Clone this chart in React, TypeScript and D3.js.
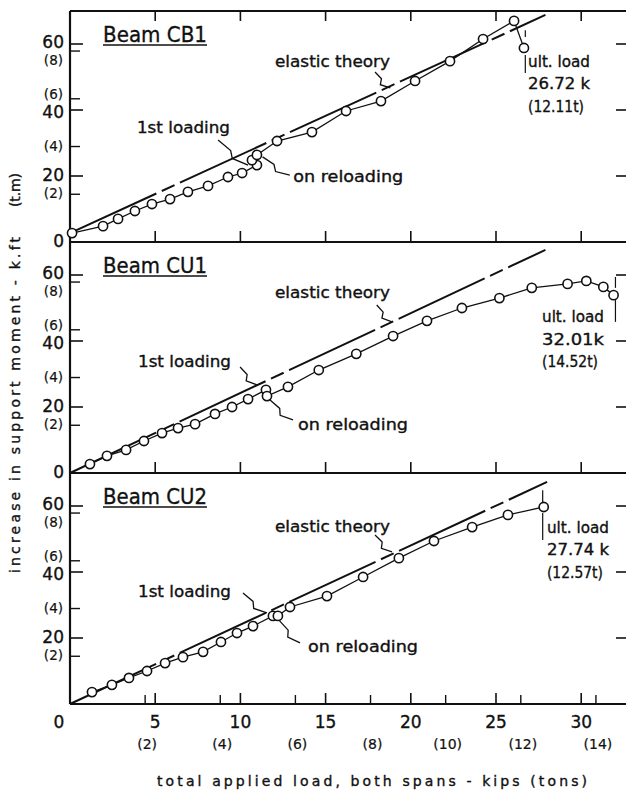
import React from 'react';
import { scaleLinear, line } from 'd3';

// axis ticks
const kipsTicks = [0, 5, 10, 15, 20, 25, 30];
const tonsTicks = [2, 4, 6, 8, 10, 12, 14];
const momentTicks = [20, 40, 60];
const tmTicks = [2, 4, 6, 8];
const KIPS_PER_TON = 2.2046;
const KFT_PER_TM = 7.233;

const beamNames = ['Beam CB1', 'Beam CU1', 'Beam CU2'];
const ultLoads = [26.72, 32.01, 27.74];
const ultKips = ['26.72 k', '32.01k', '27.74 k'];
const ultTons = ['(12.11t)', '(14.52t)', '(12.57t)'];

// measured points: load (kips) vs increase in support moment (k.ft)
const cb1Load = [0.12, 1.94, 2.82, 3.81, 4.81, 5.87, 6.92, 8.1, 9.27, 10.1, 10.97, 10.68, 10.97, 12.15, 14.2, 16.2, 18.25, 20.25, 22.3, 24.24, 26.06, 26.64];
const cb1Moment = [2.7, 4.8, 7.0, 9.4, 11.5, 13.0, 15.2, 17.0, 19.7, 20.9, 23.3, 24.8, 26.4, 30.6, 33.3, 39.7, 42.7, 48.8, 54.8, 61.5, 67.0, 58.8];

const cu1Load = [1.17, 2.17, 3.29, 4.34, 5.4, 6.34, 7.34, 8.51, 9.51, 10.45, 11.5, 11.56, 12.79, 14.6, 16.8, 18.96, 20.95, 23.0, 25.2, 27.1, 29.2, 30.3, 31.3, 31.9];
const cu1Moment = [2.7, 5.2, 7.0, 9.7, 12.1, 13.6, 14.8, 17.9, 20.0, 22.4, 25.2, 23.3, 26.1, 31.2, 36.1, 41.5, 46.1, 50.0, 53.0, 56.1, 57.3, 58.2, 56.4, 53.9];

const cu2Load = [1.29, 2.46, 3.46, 4.52, 5.58, 6.63, 7.81, 8.86, 9.8, 10.74, 11.91, 12.2, 12.91, 15.08, 17.2, 19.3, 21.36, 23.6, 25.7, 27.8];
const cu2Moment = [3.6, 5.8, 7.9, 10.0, 12.4, 14.2, 15.8, 18.8, 21.5, 23.6, 26.7, 26.7, 29.4, 32.7, 38.5, 44.2, 49.4, 53.6, 57.3, 59.7];

const loads = [cb1Load, cu1Load, cu2Load];
const moments = [cb1Moment, cu1Moment, cu2Moment];

// elastic theory lines (start, end) in kips / k.ft
const elasticLoad = [[0, 27.9], [0, 27.9], [0, 28.0]];
const elasticMoment = [[2.7, 68.8], [0, 67.6], [0, 67.3]];

// annotation layout, in chart units
const notes = [
  {
    elastic: [12.03, 54.5], elasticPtr: [17.9, 51.5, 18.8, 46.7],
    first: [3.93, 34.5], firstPtr: [8.69, 30.9, 10.45, 23.3],
    reload: [13.1, 19.4], reloadPtr: [11.3, 25.8, 12.9, 20.3],
    ult: [26.88, 54.5], ultSeg: [[64.2, 62.1], [56.7, 51.2]],
  },
  {
    elastic: [12.03, 54.5], elasticPtr: [18.0, 50.9, 18.9, 45.8],
    first: [3.99, 33.6], firstPtr: [9.98, 32.1, 10.97, 26.7],
    reload: [13.38, 14.5], reloadPtr: [11.74, 22.1, 13.09, 16.1],
    ult: [27.7, 47.0], ultSeg: [[59.4, 56.1], [52.4, 45.8]],
  },
  {
    elastic: [12.03, 53.6], elasticPtr: [17.9, 51.2, 18.9, 46.1],
    first: [3.99, 33.9], firstPtr: [10.15, 33.6, 11.56, 27.6],
    reload: [13.97, 17.0], reloadPtr: [12.3, 25.2, 13.5, 18.5],
    ult: [27.99, 53.3], ultSeg: [[64.8, 60.9], [57.9, 49.7]],
  },
];

const W = 626;
const H = 794;
const panelTops = [11, 242, 473];
const PH = 231;
const FONT = 'DejaVu Sans, sans-serif';

const x = scaleLinear().domain([0, 33.5]).range([70, 70 + 33.5 * 17.04]);
const X0 = x(0);
const XR = x(33.5);
const txt = { fontFamily: FONT, fill: '#111', stroke: '#111', strokeWidth: 0.35 } as const;

function zig(x1: number, y1: number, x2: number, y2: number) {
  const dx = x2 - x1, dy = y2 - y1;
  const len = Math.hypot(dx, dy);
  const nx = -dy / len, ny = dx / len;
  const a = [x1 + dx * 0.42, y1 + dy * 0.42];
  const b = [x1 + dx * 0.58 + nx * 5, y1 + dy * 0.58 + ny * 5];
  return `M${x1},${y1}L${a[0]},${a[1]}L${b[0]},${b[1]}L${x2},${y2}`;
}

function Panel({ i }: { i: number }) {
  const top = panelTops[i];
  const bottom = top + PH;
  const y = scaleLinear().domain([0, 70]).range([bottom, top]);
  const n = notes[i];
  const pts = loads[i].map((k, j) => [k, moments[i][j]] as [number, number]);
  const path = line<[number, number]>().x(d => x(d[0])).y(d => y(d[1]))(pts) || '';
  const tmNudge: Record<number, number> = { 8: 10, 6: -4 };
  const kNudge: Record<number, number> = { 60: -1, 40: 3 };

  return (
    <g>
      {/* frame */}
      <line x1={X0} x2={X0} y1={top} y2={bottom} stroke="#111" strokeWidth={2.2} />
      <line x1={X0} x2={XR} y1={bottom} y2={bottom} stroke="#111" strokeWidth={2} />
      {i === 0 && <line x1={X0} x2={XR} y1={top} y2={top} stroke="#111" strokeWidth={2} />}

      {/* x ticks */}
      {kipsTicks.filter(t => t > 0).map(t => (
        <line key={'b' + t} x1={x(t)} x2={x(t)} y1={bottom} y2={bottom - 11} stroke="#111" strokeWidth={1.6} />
      ))}
      {i === 0 && kipsTicks.filter(t => t > 0).map(t => (
        <line key={'t' + t} x1={x(t)} x2={x(t)} y1={top} y2={top + 10} stroke="#111" strokeWidth={1.6} />
      ))}
      {i === 2 && tonsTicks.map(t => (
        <line key={'tn' + t} x1={x(t * KIPS_PER_TON)} x2={x(t * KIPS_PER_TON)} y1={bottom} y2={bottom - 9} stroke="#111" strokeWidth={1.4} />
      ))}

      {/* y ticks */}
      {momentTicks.map(t => (
        <g key={'m' + t}>
          <line x1={X0} x2={X0 + 13} y1={y(t)} y2={y(t)} stroke="#111" strokeWidth={1.6} />
          <line x1={W + 2} x2={W - 10} y1={y(t)} y2={y(t)} stroke="#111" strokeWidth={1.6} />
          <text x={64} y={y(t) + (kNudge[t] || 0)} textAnchor="end" dominantBaseline="middle" fontSize={17} {...txt}>{t}</text>
        </g>
      ))}
      {tmTicks.map(t => (
        <g key={'tm' + t}>
          <line x1={X0} x2={X0 + 10} y1={y(t * KFT_PER_TM)} y2={y(t * KFT_PER_TM)} stroke="#111" strokeWidth={1.4} />
          <text x={63} y={y(t * KFT_PER_TM) + (tmNudge[t] || 0)} textAnchor="end" dominantBaseline="middle" fontSize={13.5} {...txt} strokeWidth={0.2}>({t})</text>
        </g>
      ))}
      {i < 2 && <text x={64} y={bottom} textAnchor="end" dominantBaseline="middle" fontSize={17} {...txt}>0</text>}

      {/* title */}
      <text x={103} y={top + 31} fontSize={22} textLength={104} lengthAdjust="spacingAndGlyphs" {...txt}>{beamNames[i]}</text>
      <line x1={103} x2={207} y1={top + 34} y2={top + 34} stroke="#111" strokeWidth={1.6} />

      {/* elastic theory */}
      <line
        x1={x(elasticLoad[i][0])} y1={y(elasticMoment[i][0])}
        x2={x(elasticLoad[i][1])} y2={y(elasticMoment[i][1])}
        stroke="#111" strokeWidth={2} strokeDasharray="95 6 14 6"
      />

      {/* test data */}
      <path d={path} fill="none" stroke="#111" strokeWidth={1.3} />
      {pts.map((d, j) => (
        <circle key={j} cx={x(d[0])} cy={y(d[1])} r={4.6} fill="#fff" stroke="#111" strokeWidth={1.6} />
      ))}

      {/* ultimate load */}
      {n.ultSeg.map((s, j) => (
        <line key={'u' + j} x1={x(ultLoads[i])} x2={x(ultLoads[i])} y1={y(s[0])} y2={y(s[1])} stroke="#111" strokeWidth={1.2} />
      ))}
      {['ult. load', ultKips[i], ultTons[i]].map((s, j) => (
        <text key={'ut' + j} x={x(n.ult[0])} y={y(n.ult[1]) + j * 22.5} dominantBaseline="middle" fontSize={15}
          textLength={j === 2 ? 56 : 62} lengthAdjust="spacingAndGlyphs" {...txt}>{s}</text>
      ))}

      {/* labels */}
      <text x={x(n.elastic[0])} y={y(n.elastic[1])} dominantBaseline="middle" fontSize={15} textLength={115} lengthAdjust="spacingAndGlyphs" {...txt}>elastic theory</text>
      <path d={zig(x(n.elasticPtr[0]), y(n.elasticPtr[1]), x(n.elasticPtr[2]), y(n.elasticPtr[3]))} fill="none" stroke="#111" strokeWidth={1.3} />
      <text x={x(n.first[0])} y={y(n.first[1])} dominantBaseline="middle" fontSize={15} textLength={93} lengthAdjust="spacingAndGlyphs" {...txt}>1st loading</text>
      <path d={zig(x(n.firstPtr[0]), y(n.firstPtr[1]), x(n.firstPtr[2]), y(n.firstPtr[3]))} fill="none" stroke="#111" strokeWidth={1.3} />
      <text x={x(n.reload[0])} y={y(n.reload[1])} dominantBaseline="middle" fontSize={15} textLength={110} lengthAdjust="spacingAndGlyphs" {...txt}>on reloading</text>
      <path d={zig(x(n.reloadPtr[0]), y(n.reloadPtr[1]), x(n.reloadPtr[2]), y(n.reloadPtr[3]))} fill="none" stroke="#111" strokeWidth={1.3} />
    </g>
  );
}

export default function App() {
  const bottom = panelTops[2] + PH;
  return (
    <svg width={W} height={H} style={{ position: 'absolute', left: 0, top: 0, background: '#fff' }}>
      <rect width={W} height={H} fill="#fff" />
      {[0, 1, 2].map(i => <Panel key={i} i={i} />)}

      {/* x axis labels */}
      {kipsTicks.map(t => (
        <text key={'k' + t} x={t === 0 ? 59 : x(t)} y={bottom + 19} textAnchor="middle" dominantBaseline="middle" fontSize={17} {...txt}>{t}</text>
      ))}
      {tonsTicks.map(t => (
        <text key={'tn' + t} x={x(t * KIPS_PER_TON) + 2} y={bottom + 41} textAnchor="middle" dominantBaseline="middle" fontSize={14} {...txt} strokeWidth={0.2}>({t})</text>
      ))}
      <text x={157} y={bottom + 78} dominantBaseline="middle" fontSize={14} textLength={430} lengthAdjust="spacing" {...txt}>
        total applied load, both spans  -  kips  (tons)
      </text>

      {/* y axis title */}
      <text transform="translate(16,573) rotate(-90)" dominantBaseline="middle" fontSize={14} textLength={336} lengthAdjust="spacing" {...txt}>
        increase in support moment  -  k.ft
      </text>
      <text transform="translate(16,207) rotate(-90)" dominantBaseline="middle" fontSize={14} textLength={34} lengthAdjust="spacing" {...txt}>
        (t.m)
      </text>
    </svg>
  );
}
